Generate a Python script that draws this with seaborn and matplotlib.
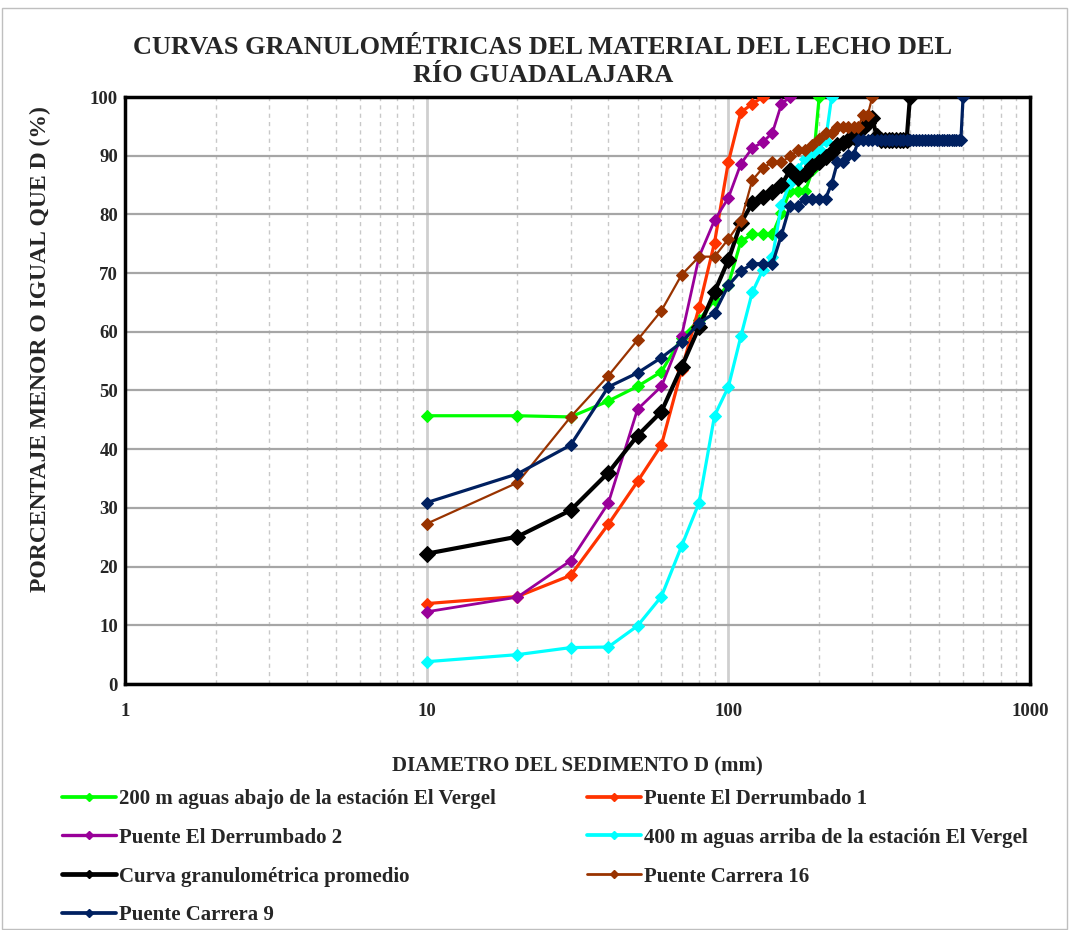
import matplotlib
matplotlib.use("Agg")
import matplotlib.pyplot as plt
import seaborn as sns
import pandas as pd
from matplotlib.lines import Line2D
from matplotlib.patches import Rectangle
from matplotlib.ticker import FixedLocator, FixedFormatter, NullFormatter, LogLocator

# ---------------- data ----------------
TITLE = "CURVAS GRANULOMÉTRICAS DEL MATERIAL DEL LECHO DEL\nRÍO GUADALAJARA"
XLABEL = "DIAMETRO DEL SEDIMENTO D (mm)"
YLABEL = "PORCENTAJE MENOR O IGUAL QUE D (%)"

names = [
    "200 m aguas abajo de la estación El Vergel",
    "Puente El Derrumbado 1",
    "Puente El Derrumbado 2",
    "400 m aguas arriba de la estación El Vergel",
    "Curva granulométrica promedio",
    "Puente Carrera 16",
    "Puente Carrera 9",
]

d_green = [10, 20, 30, 40, 50, 60, 70, 80, 90, 100, 110, 120, 130, 140, 150, 160, 170, 180, 190, 200]
p_green = [45.7, 45.7, 45.5, 48.2, 50.7, 53.2, 59.0, 62.0, 65.4, 68.0, 75.4, 76.6, 76.6, 76.6, 80.3, 84.0, 84.0, 84.0, 87.5, 100.0]

d_red = [10, 20, 30, 40, 50, 60, 70, 80, 90, 100, 110, 120, 130]
p_red = [13.7, 14.9, 18.5, 27.2, 34.5, 40.7, 53.5, 64.2, 75.2, 88.9, 97.4, 98.8, 100.0]

d_purple = [10, 20, 30, 40, 50, 60, 70, 80, 90, 100, 110, 120, 130, 140, 150, 160]
p_purple = [12.3, 14.8, 21.0, 30.8, 46.8, 50.7, 59.3, 72.8, 79.0, 82.8, 88.6, 91.3, 92.3, 93.9, 98.8, 100.0]

d_cyan = [10, 20, 30, 40, 50, 60, 70, 80, 90, 100, 110, 120, 130, 140, 150, 160, 170, 180, 190, 200, 210, 220]
p_cyan = [3.8, 5.0, 6.2, 6.3, 9.9, 14.9, 23.5, 30.9, 45.7, 50.6, 59.2, 66.7, 70.5, 72.7, 81.6, 85.3, 87.8, 89.5, 90.5, 91.2, 92.5, 100.0]

d_black = [10, 20, 30, 40, 50, 60, 70, 80, 90, 100, 110, 120, 130, 140, 150, 160, 170, 180, 190, 200,
           210, 220, 230, 240, 250, 260, 270, 280, 290, 300, 310, 320, 330, 340, 350, 360, 370, 380, 390, 400]
p_black = [22.2, 25.1, 29.6, 36.0, 42.3, 46.4, 54.0, 60.8, 66.8, 72.2, 78.5, 81.9, 83.0, 83.8, 85.0, 87.5, 86.2, 86.8, 88.2, 88.9,
           89.8, 90.6, 91.8, 92.2, 92.7, 93.2, 94.0, 94.8, 95.5, 96.4, 93.4, 92.7, 92.7, 92.7, 92.7, 92.7, 92.7, 92.7, 92.7, 100.0]

d_brown = [10, 20, 30, 40, 50, 60, 70, 80, 90, 100, 110, 120, 130, 140, 150, 160, 170, 180, 190, 200,
           210, 220, 230, 240, 250, 260, 270, 280, 290, 300]
p_brown = [27.3, 34.3, 45.5, 52.5, 58.6, 63.6, 69.7, 72.8, 72.8, 75.8, 78.8, 85.8, 87.9, 88.9, 88.9, 89.9, 90.9, 90.9, 91.9, 92.9,
           93.9, 93.9, 94.9, 94.9, 94.9, 94.9, 94.9, 97.0, 97.0, 100.0]

d_navy = [10, 20, 30, 40, 50, 60, 70, 80, 90, 100, 110, 120, 130, 140, 150, 160, 170, 180, 190, 200,
          210, 220, 230, 240, 250, 260, 270, 280, 290, 300, 310, 320, 330, 340, 350, 360, 370, 380, 390, 400,
          410, 420, 430, 440, 450, 460, 470, 480, 490, 500, 510, 520, 530, 540, 550, 560, 570, 580, 590, 600]
p_navy = [30.9, 35.8, 40.7, 50.6, 53.0, 55.6, 58.2, 61.5, 63.2, 67.9, 70.3, 71.6, 71.6, 71.6, 76.5, 81.5, 81.5, 82.7, 82.7, 82.7,
          82.7, 85.2, 88.9, 88.9, 90.1, 90.1, 92.6, 92.6, 92.6, 92.6, 92.6, 92.6, 92.6, 92.6, 92.6, 92.6, 92.6, 92.6, 92.6, 92.6,
          92.6, 92.6, 92.6, 92.6, 92.6, 92.6, 92.6, 92.6, 92.6, 92.6, 92.6, 92.6, 92.6, 92.6, 92.6, 92.6, 92.6, 92.6, 92.6, 100.0]

x_ticks = [1, 10, 100, 1000]
x_tick_labels = ["1", "10", "100", "1000"]
y_ticks = [0, 10, 20, 30, 40, 50, 60, 70, 80, 90, 100]

series = [
    (names[0], d_green, p_green, "#00FF00", 2.3, 6.5),
    (names[1], d_red, p_red, "#FF3300", 2.3, 6.5),
    (names[2], d_purple, p_purple, "#990099", 2.0, 6.5),
    (names[3], d_cyan, p_cyan, "#00FFFF", 2.3, 6.5),
    (names[4], d_black, p_black, "#000000", 3.0, 8.0),
    (names[5], d_brown, p_brown, "#993300", 1.6, 6.5),
    (names[6], d_navy, p_navy, "#002060", 2.3, 6.5),
]

# ---------------- style ----------------
sns.set_theme(style="white")
plt.rcParams["font.family"] = ["Liberation Serif", "DejaVu Serif"]
plt.rcParams["font.weight"] = "bold"
plt.rcParams["axes.labelweight"] = "bold"

fig = plt.figure(figsize=(10.69, 9.30), dpi=100)
fig.patch.set_facecolor("white")
ax = fig.add_axes([125 / 1069, 1 - 684 / 930, 905 / 1069, 587 / 930])

ax.set_xscale("log")
for name, dx, py, col, lw, ms in series:
    df = pd.DataFrame({"d": dx, "p": py})
    sns.lineplot(data=df, x="d", y="p", ax=ax, color=col, linewidth=lw, marker="D",
                 markersize=ms, markeredgecolor=col, markerfacecolor=col,
                 sort=False, estimator=None, legend=False, zorder=3)

ax.set_xlim(1, 1000)
ax.set_ylim(0, 100)
ax.xaxis.set_major_locator(FixedLocator(x_ticks))
ax.xaxis.set_major_formatter(FixedFormatter(x_tick_labels))
ax.xaxis.set_minor_locator(LogLocator(base=10, subs=[2, 3, 4, 5, 6, 7, 8, 9]))
ax.xaxis.set_minor_formatter(NullFormatter())
ax.set_yticks(y_ticks)

ax.grid(False)
ax.grid(which="major", axis="y", color="#A6A6A6", linewidth=1.6, zorder=0)
ax.grid(which="major", axis="x", color="#CFCFCF", linewidth=2.0, zorder=0)
ax.grid(which="minor", axis="x", color="#C8C8C8", linewidth=1.0, linestyle=(0, (3, 3)), zorder=0)
ax.set_axisbelow(True)

for s in ax.spines.values():
    s.set_color("black")
    s.set_linewidth(2.5)

ax.tick_params(axis="both", which="both", length=0, labelsize=13.5, pad=5)
for lab in ax.get_xticklabels() + ax.get_yticklabels():
    lab.set_fontweight("bold")
ax.tick_params(axis="x", pad=14)

ax.set_xlabel(XLABEL, fontsize=15, fontweight="bold")
ax.xaxis.set_label_coords(0.5, -0.123)
ax.set_ylabel(YLABEL, fontsize=17, fontweight="bold")
ax.yaxis.set_label_coords(-0.082, 0.57)

fig.suptitle(TITLE, x=543 / 1069, y=1 - 36 / 930, va="top", fontsize=19, fontweight="bold", linespacing=1.25)

handles = []
order = [0, 2, 4, 6, 1, 3, 5]
for i in order:
    name, dx, py, col, lw, ms = series[i]
    handles.append(Line2D([], [], color=col, linewidth=lw + 0.4, marker="D", markersize=4.5,
                          markeredgecolor=col, markerfacecolor=col))
labels = [series[i][0] for i in order]
fig.legend(handles, labels, ncol=2, loc="upper left", bbox_to_anchor=(62 / 1069, 1 - 789 / 930),
           frameon=False, fontsize=15, handlelength=2.6, handletextpad=0.15,
           columnspacing=4.35, labelspacing=0.9, borderaxespad=0, borderpad=0)

fig.patches.append(Rectangle((0.002, 0.001), 0.996, 0.99, transform=fig.transFigure,
                             fill=False, edgecolor="#BFBFBF", linewidth=1.0))

fig.savefig("out.png", dpi=100)
